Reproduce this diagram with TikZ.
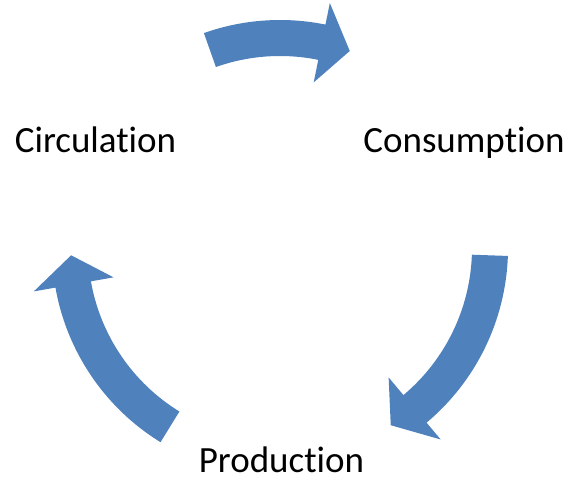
\documentclass[tikz,border=0pt]{standalone}
\usepackage{fontspec}
\setmainfont{Carlito}[Ligatures=NoCommon]
\usepackage{tikz}
\definecolor{colorArrow}{HTML}{4F81BD}

% one curved block arrow: #1 tail angle, #2 head base angle, #3 tip angle
\newcommand{\cyclearrow}[3]{%
  \fill[colorArrow] (#1:228) arc[start angle=#1, end angle=#2, radius=228]
    -- (#2:250) -- (#3:209) -- (#2:169) -- (#2:192)
    arc[start angle=#2, end angle=#1, radius=192] -- cycle;}

\begin{document}
\begin{tikzpicture}[x=1pt,y=1pt]
        \useasboundingbox (-280,-230) rectangle (289,248);
        \tikzset{stage/.style={anchor=base, inner sep=0pt, font=\fontsize{37}{44}\selectfont}}
        \cyclearrow{109.5}{78.5}{70.5}
        \cyclearrow{-2}{-50}{-58}
        \cyclearrow{238.4}{190}{182}
        \draw (-184.5,95) node[stage] (circulation) {Circulation};
        \draw (184,95) node[stage] (consumption) {Consumption};
        \draw (1.5,-224) node[stage] (production) {Production};
    \end{tikzpicture}
\end{document}
